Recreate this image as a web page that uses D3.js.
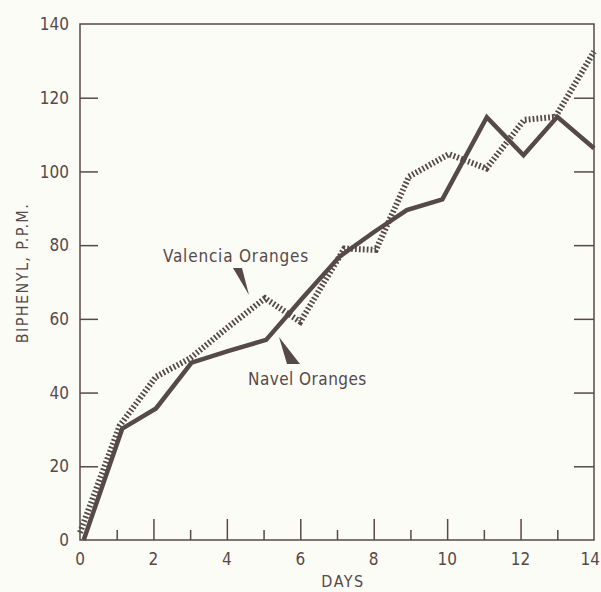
<!DOCTYPE html>
<html><head><meta charset="utf-8">
<script src="https://cdn.jsdelivr.net/npm/d3@7"></script>
<style>
html,body{margin:0;padding:0;background:#fcfcf7;}
svg{display:block;}
text{font-family:"DejaVu Sans Condensed","DejaVu Sans",sans-serif;fill:#554949;}
</style></head>
<body>
<script>
// ---- data ----
const xTicksMajor = [0, 2, 4, 6, 8, 10, 12, 14];
const xTicksMinor = [1, 3, 5, 7, 9, 11, 13];
const yTicks = [0, 20, 40, 60, 80, 100, 120, 140];
const navelDays = [0.1, 1.15, 2.07, 3.04, 4.05, 5.07, 6.05, 7.07, 8.0, 8.9, 9.87, 11.08, 12.08, 13.0, 14.0];
const navelPPM  = [0, 30.2, 35.7, 48.1, 51.3, 54.3, 65.5, 76.9, 83.5, 89.5, 92.4, 114.7, 104.4, 114.8, 106.3];
const valenciaDays = [0, 1.08, 2.07, 3.0, 4.0, 5.04, 6.0, 7.2, 8.06, 8.96, 10.05, 11.07, 12.1, 12.95, 14.0];
const valenciaPPM  = [2, 31, 44.3, 49.3, 57.5, 65.6, 59.2, 79.1, 78.7, 98.6, 104.7, 100.8, 114, 114.8, 132.5];
const seriesLabels = ["Valencia Oranges", "Navel Oranges"];
const xTitle = "DAYS";
const yTitle = "BIPHENYL, P.P.M.";

const W = 601, H = 592;
const ink = "#554949";
const m = {left: 80, right: 7, top: 24, bottom: 52};
const svg = d3.select("body").append("svg").attr("width", W).attr("height", H);
svg.append("rect").attr("width", W).attr("height", H).attr("fill", "#fcfcf7");

const x = d3.scaleLinear().domain([0, 14]).range([m.left, W - m.right]);
const y = d3.scaleLinear().domain([0, 140]).range([H - m.bottom, m.top]);

// frame
svg.append("rect").attr("x", x(0)).attr("y", y(140)).attr("width", x(14) - x(0)).attr("height", y(0) - y(140))
  .attr("fill", "none").attr("stroke", ink).attr("stroke-width", 1.5);

// left axis (ticks inward)
const yInner = yTicks.filter(d => d > 0 && d < 140);
const gl = svg.append("g").attr("transform", `translate(${x(0)},0)`)
  .call(d3.axisRight(y).tickValues(yInner).tickSize(18).tickFormat(""));
gl.select(".domain").remove();
gl.selectAll("line").attr("stroke", ink).attr("stroke-width", 1.5);
// right axis ticks inward
const gr = svg.append("g").attr("transform", `translate(${x(14)},0)`)
  .call(d3.axisLeft(y).tickValues(yInner).tickSize(20).tickFormat(""));
gr.select(".domain").remove();
gr.selectAll("line").attr("stroke", ink).attr("stroke-width", 1.5);

// y labels
svg.append("g").selectAll("text").data(yTicks).join("text")
  .attr("x", 69).attr("y", d => y(d)).attr("dy", "0.36em")
  .attr("text-anchor", "end").attr("font-size", 17)
  .text(d => d);

// bottom axis ticks inward
const gbM = svg.append("g").attr("transform", `translate(0,${y(0)})`)
  .call(d3.axisTop(x).tickValues(xTicksMajor.filter(d => d > 0 && d < 14)).tickSize(21).tickFormat(""));
gbM.select(".domain").remove();
gbM.selectAll("line").attr("stroke", ink).attr("stroke-width", 1.5);
const gbm = svg.append("g").attr("transform", `translate(0,${y(0)})`)
  .call(d3.axisTop(x).tickValues(xTicksMinor).tickSize(10).tickFormat(""));
gbm.select(".domain").remove();
gbm.selectAll("line").attr("stroke", ink).attr("stroke-width", 1.5);

// x labels
svg.append("g").selectAll("text").data(xTicksMajor).join("text")
  .attr("x", d => d === 14 ? W - 1 : x(d)).attr("y", 565)
  .attr("text-anchor", d => d === 14 ? "end" : "middle").attr("font-size", 17)
  .text(d => d);

svg.append("text").attr("x", 343).attr("y", 587).attr("text-anchor", "middle")
  .attr("font-size", 16).attr("letter-spacing", 1.5).text(xTitle);

svg.append("text").attr("transform", "translate(28,273) rotate(-90)").attr("text-anchor", "middle")
  .attr("font-size", 16).attr("letter-spacing", 1.4).text(yTitle);

// lines
const line = d3.line().x(d => x(d[0])).y(d => y(d[1]));
const navel = navelDays.map((d, i) => [d, navelPPM[i]]);
const valencia = valenciaDays.map((d, i) => [d, valenciaPPM[i]]);

svg.append("path").datum(navel).attr("d", line).attr("fill", "none")
  .attr("stroke", ink).attr("stroke-width", 4.5).attr("stroke-linejoin", "miter");
svg.append("path").datum(valencia).attr("d", line).attr("fill", "none")
  .attr("stroke", ink).attr("stroke-width", 6).attr("stroke-dasharray", "1.8,2.1");

// annotations
svg.append("text").attr("x", 163).attr("y", 262).attr("font-size", 17).attr("letter-spacing", 0.7)
  .attr("textLength", 146).attr("lengthAdjust", "spacing")
  .text(seriesLabels[0]);
svg.append("text").attr("x", 248).attr("y", 385).attr("font-size", 17).attr("letter-spacing", 0.7)
  .attr("textLength", 119).attr("lengthAdjust", "spacing")
  .text(seriesLabels[1]);
svg.append("path").attr("d", "M233,268 L242,268 L249,295 Z").attr("fill", ink);
svg.append("path").attr("d", "M279,337 L287,364 L300,364 Z").attr("fill", ink);
</script>
</body></html>
